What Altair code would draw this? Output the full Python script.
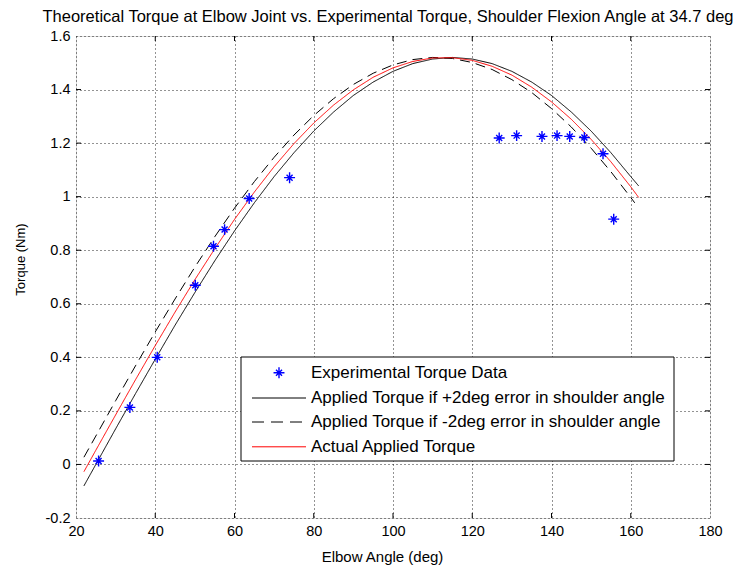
import altair as alt
import pandas as pd

# ---------------- data ----------------
exp_angle = [25.7, 33.6, 40.5, 50.1, 54.7, 57.5, 63.7, 73.9,
             126.8, 131.2, 137.6, 141.4, 144.6, 148.3, 153.0, 155.7]
exp_torque = [0.013, 0.213, 0.400, 0.669, 0.815, 0.877, 0.993, 1.071,
              1.219, 1.228, 1.225, 1.228, 1.225, 1.221, 1.160, 0.916]

curve_angle = [22, 25, 30, 35, 40, 45, 50, 55, 60, 65, 70, 75, 80, 85, 90, 95,
               100, 105, 110, 115, 120, 125, 130, 135, 140, 145, 150, 155, 160, 162]
actual_torque = [-0.027, 0.053, 0.185, 0.316, 0.444, 0.569, 0.690, 0.805, 0.915,
                 1.017, 1.112, 1.198, 1.275, 1.342, 1.399, 1.446, 1.481, 1.505,
                 1.518, 1.519, 1.509, 1.487, 1.454, 1.409, 1.354, 1.289, 1.214,
                 1.130, 1.037, 0.997]
plus2_torque = [-0.080, 0.000, 0.133, 0.264, 0.393, 0.520, 0.642, 0.760, 0.872,
                0.977, 1.075, 1.164, 1.245, 1.316, 1.378, 1.428, 1.468, 1.497,
                1.514, 1.520, 1.514, 1.497, 1.468, 1.428, 1.378, 1.316, 1.245,
                1.164, 1.075, 1.040]
minus2_angle = [22, 25, 30, 35, 40, 45, 50, 55, 60, 65, 70, 75, 80, 85, 90, 95,
                100, 105, 110, 115, 120, 125, 130, 135, 140, 145, 150, 155, 160, 161]
minus2_torque = [0.027, 0.106, 0.238, 0.368, 0.495, 0.618, 0.737, 0.850, 0.957,
                 1.056, 1.147, 1.230, 1.303, 1.366, 1.419, 1.461, 1.492, 1.512,
                 1.520, 1.516, 1.501, 1.475, 1.437, 1.389, 1.329, 1.260, 1.181,
                 1.093, 0.997, 0.977]

series_names = ["Experimental Torque Data",
                "Applied Torque if +2deg error in shoulder angle",
                "Applied Torque if -2deg error in shoulder angle",
                "Actual Applied Torque"]

x_ticks = [20, 40, 60, 80, 100, 120, 140, 160, 180]
y_ticks = [-0.2, 0, 0.2, 0.4, 0.6, 0.8, 1, 1.2, 1.4, 1.6]

# ---------------- layout constants ----------------
W, H = 634, 482
FONT = "Liberation Sans, Arial, sans-serif"
STAR = "M0,-1L0,1M-1,0L1,0M-0.55,-0.55L0.55,0.55M-0.55,0.55L0.55,-0.55"

lines_df = pd.concat([
    pd.DataFrame({"angle": curve_angle, "torque": plus2_torque, "series": series_names[1]}),
    pd.DataFrame({"angle": minus2_angle, "torque": minus2_torque, "series": series_names[2]}),
    pd.DataFrame({"angle": curve_angle, "torque": actual_torque, "series": series_names[3]}),
])
exp_df = pd.DataFrame({"angle": exp_angle, "torque": exp_torque})

label_expr = "datum.value < 0 ? '-' + format(-datum.value, '~g') : format(datum.value, '~g')"

x_enc = alt.X("angle:Q", scale=alt.Scale(domain=[20, 180], nice=False),
              axis=alt.Axis(values=x_ticks, title="Elbow Angle (deg)", labelExpr=label_expr,
                            ticks=False, domain=False, grid=True, gridDash=[1, 3],
                            gridColor="#000000", gridOpacity=0.85, labelFontSize=14.5,
                            labelFont=FONT, labelColor="#000", labelPadding=6,
                            titleFont=FONT, titleFontSize=15, titleFontWeight="normal",
                            titleColor="#000", titleX=306, titleY=43,
                            titleBaseline="alphabetic", labelFlush=False))
y_enc = alt.Y("torque:Q", scale=alt.Scale(domain=[-0.2, 1.6], nice=False, zero=False),
              axis=alt.Axis(values=y_ticks, title="Torque (Nm)", labelExpr=label_expr,
                            ticks=False, domain=False, grid=True, gridDash=[1, 3],
                            gridColor="#000000", gridOpacity=0.85, labelFontSize=14.5,
                            labelFont=FONT, labelColor="#000", labelPadding=6,
                            titleFont=FONT, titleFontSize=13, titleFontWeight="normal",
                            titleColor="#000", titleX=-56, titleY=223, titleAngle=-90,
                            titleAlign="center", titleBaseline="middle", labelFlush=False))

lines = alt.Chart(lines_df).mark_line(strokeWidth=1).encode(
    x=x_enc, y=y_enc,
    color=alt.Color("series:N", scale=alt.Scale(domain=series_names[1:],
                                                range=["#000000", "#000000", "#ff0000"]),
                    legend=None),
    strokeDash=alt.StrokeDash("series:N", scale=alt.Scale(domain=series_names[1:],
                                                          range=[[1, 0], [10, 6], [1, 0]]),
                              legend=None),
    detail="series:N",
)

points = alt.Chart(exp_df).mark_point(shape=STAR, size=120, filled=False,
                                      color="#0000ff", strokeWidth=1.4, opacity=1).encode(
    x="angle:Q", y="torque:Q")

# inward ticks on all four sides
xt = pd.DataFrame({"angle": x_ticks[1:-1]})
yt = pd.DataFrame({"torque": y_ticks[1:-1]})
tick_style = dict(color="#000", strokeWidth=1)
ticks = [
    alt.Chart(xt).mark_rule(**tick_style).encode(x="angle:Q", y=alt.value(H), y2=alt.value(H - 5)),
    alt.Chart(xt).mark_rule(**tick_style).encode(x="angle:Q", y=alt.value(0), y2=alt.value(5)),
    alt.Chart(yt).mark_rule(**tick_style).encode(y="torque:Q", x=alt.value(0), x2=alt.value(5)),
    alt.Chart(yt).mark_rule(**tick_style).encode(y="torque:Q", x=alt.value(W), x2=alt.value(W - 5)),
]

# legend (drawn as an annotation box)
one = pd.DataFrame({"k": [0]})
LX0, LX1, LY0, LY1 = 165, 598, 321, 425
row_y = [336.7, 362.0, 386.0, 410.8]
legend_layers = [
    alt.Chart(one).mark_rect(fill="white", stroke="#000", strokeWidth=1).encode(
        x=alt.value(LX0), x2=alt.value(LX1), y=alt.value(LY0), y2=alt.value(LY1)),
    alt.Chart(one).mark_point(shape=STAR, size=120, filled=False, color="#0000ff",
                              strokeWidth=1.4, opacity=1).encode(
        x=alt.value(203), y=alt.value(row_y[0])),
    alt.Chart(one).mark_rule(color="#000", strokeWidth=1).encode(
        x=alt.value(176), x2=alt.value(230), y=alt.value(row_y[1])),
    alt.Chart(one).mark_rule(color="#000", strokeWidth=1, strokeDash=[12, 7]).encode(
        x=alt.value(176), x2=alt.value(230), y=alt.value(row_y[2])),
    alt.Chart(one).mark_rule(color="#ff0000", strokeWidth=1).encode(
        x=alt.value(176), x2=alt.value(230), y=alt.value(row_y[3])),
]
for name, yy in zip(series_names, row_y):
    legend_layers.append(
        alt.Chart(one).mark_text(text=name, align="left", baseline="middle",
                                 font=FONT, fontSize=17, color="#000").encode(
            x=alt.value(235), y=alt.value(yy)))

# chart title drawn as text above the plot area
title_text = "Theoretical Torque at Elbow Joint vs. Experimental Torque, Shoulder Flexion Angle at 34.7 deg"
title_layer = alt.Chart(one).mark_text(text=title_text, align="center", baseline="alphabetic",
                                       font=FONT, fontSize=16.5, color="#000").encode(
    x=alt.value(W / 2 - 5), y=alt.value(-14))

chart = alt.layer(lines, points, *ticks, *legend_layers, title_layer).properties(
    width=W, height=H,
    padding={"left": 68, "top": 28, "right": 34, "bottom": 48},
    autosize=alt.AutoSizeParams(type="none"),
).configure_view(stroke="#000", strokeWidth=1).configure(background="white")

chart.save("out.html", embed_options={"renderer": "svg", "actions": False})
